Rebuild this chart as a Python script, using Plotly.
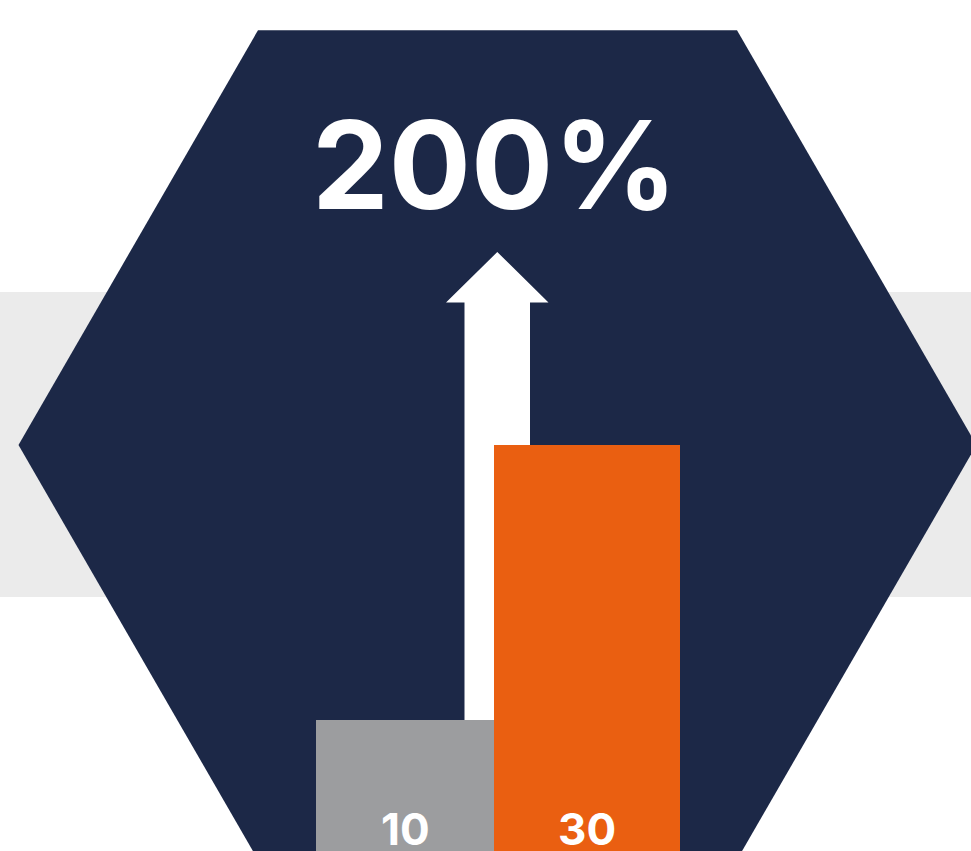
import plotly.graph_objects as go

# Values shown in the chart
categories = ["Before", "After"]
values = [10, 30]
growth_label = "200%"

# Colours
NAVY = "#1c2847"
BAND = "#ebebeb"
GREY = "#9c9d9f"
ORANGE = "#ea5f11"
WHITE = "#ffffff"
bar_colors = [GREY, ORANGE]

# Page geometry (pixels)
W, H = 971, 851
BASE_PX = 857.5          # pixel row of value 0
PX_PER_UNIT = 13.75      # vertical pixels per unit of value
bar_centers = [405, 587]
bar_widths = [178, 186]

FONT = "Inter"


def px(x):
    return x / W


def py(y):
    return 1 - y / H


def path(points):
    pts = [f"{px(x):.5f},{py(y):.5f}" for x, y in points]
    return "M " + " L ".join(pts) + " Z"


fig = go.Figure()

fig.add_trace(go.Bar(
    x=categories,
    y=values,
    hoverinfo="skip",
    showlegend=False,
    visible=False,
))

fig.add_trace(go.Bar(
    x=bar_centers,
    y=values,
    width=bar_widths,
    marker=dict(color=bar_colors, line=dict(width=0)),
    hoverinfo="skip",
    showlegend=False,
    xaxis="x2",
))

# value labels at the foot of each bar
annotations = [
    dict(x=px(xc), y=py(829), xref="paper", yref="paper", text=f"<b>{v}</b>",
         showarrow=False, xanchor="center", yanchor="middle",
         height=40, valign="middle",
         font=dict(family=FONT, size=44, color=WHITE))
    for xc, v in zip(bar_centers, values)
]
annotations.append(dict(
    x=px(494.5), y=py(164), xref="paper", yref="paper", text=f"<b>{growth_label}</b>",
    showarrow=False, xanchor="center", yanchor="middle",
    font=dict(family=FONT, size=122, color=WHITE),
))

# background band, hexagon and growth arrow
hx_c, hy_c, side = 497.5, 445, 479
hex_pts = [
    (hx_c - side / 2, hy_c - side * 0.8660),
    (hx_c + side / 2, hy_c - side * 0.8660),
    (hx_c + side, hy_c),
    (hx_c + side / 2, hy_c + side * 0.8660),
    (hx_c - side / 2, hy_c + side * 0.8660),
    (hx_c - side, hy_c),
]
arrow_pts = [
    (464.5, 740), (464.5, 302.5), (446, 302.5), (497.3, 252),
    (548.5, 302.5), (530, 302.5), (530, 740),
]
shapes = [
    dict(type="rect", xref="paper", yref="paper", x0=0, x1=1, y0=py(597), y1=py(292),
         fillcolor=BAND, line=dict(width=0), layer="below"),
    dict(type="path", xref="paper", yref="paper", path=path(hex_pts),
         fillcolor=NAVY, line=dict(width=0), layer="below"),
    dict(type="path", xref="paper", yref="paper", path=path(arrow_pts),
         fillcolor=WHITE, line=dict(width=0), layer="below"),
]

y_top = BASE_PX / PX_PER_UNIT
y_bottom = (BASE_PX - H) / PX_PER_UNIT

fig.update_layout(
    width=W, height=H,
    margin=dict(l=0, r=0, t=0, b=0),
    paper_bgcolor=WHITE, plot_bgcolor="rgba(0,0,0,0)",
    xaxis=dict(visible=False, fixedrange=True),
    xaxis2=dict(range=[0, W], visible=False, fixedrange=True, overlaying="x"),
    yaxis=dict(range=[y_bottom, y_top], visible=False, fixedrange=True),
    shapes=shapes,
    annotations=annotations,
    bargap=0,
)

fig.write_html("out.html", config={"displayModeBar": False})
